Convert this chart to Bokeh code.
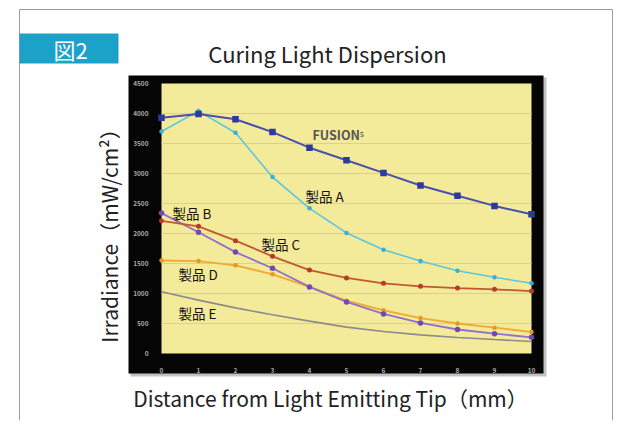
import math
from bokeh.plotting import figure
from bokeh.models import LinearAxis, FixedTicker, Range1d
from bokeh.core.properties import value
from bokeh.embed import file_html
from bokeh.resources import INLINE

# ---- data ----
distance_mm = [0, 1, 2, 3, 4, 5, 6, 7, 8, 9, 10]
fusion = [3930, 3990, 3905, 3690, 3430, 3220, 3010, 2800, 2630, 2460, 2320]
prod_a = [3700, 4040, 3680, 2940, 2420, 2010, 1730, 1540, 1380, 1270, 1170]
prod_b = [2340, 2020, 1690, 1420, 1110, 860, 660, 510, 400, 330, 270]
prod_c = [2210, 2120, 1880, 1620, 1390, 1260, 1170, 1120, 1090, 1070, 1040]
prod_d = [1550, 1540, 1470, 1320, 1110, 880, 720, 590, 500, 430, 360]
prod_e = [1030, 890, 760, 645, 540, 440, 367, 311, 267, 233, 200]
y_ticks = [0, 500, 1000, 1500, 2000, 2500, 3000, 3500, 4000, 4500]
x_ticks = distance_mm

series_names = ["FUSION⁵", "製品 A", "製品 B", "製品 C", "製品 D", "製品 E"]
label_x = [4.08, 3.89, 0.30, 2.70, 0.46, 0.46]
label_y = [3650, 2617, 2350, 1833, 1333, 667]

title_text = "Curing Light Dispersion"
x_label = "Distance from Light Emitting Tip（mm）"
y_label = "Irradiance（mW/cm²）"
fig_tag = "図2"

# ---- layout (canvas pixels) ----
W, H = 618, 420
PX0, PY0 = 161, 353          # canvas position of data origin
SX = 37.0                     # px per mm
SY = 270.0 / 4500.0           # px per mW/cm2

def dx(cx):
    return (cx - PX0) / SX

def dy(cy):
    return (PY0 - cy) / SY

FONT = "Noto Sans CJK JP"

p = figure(width=W, height=H, output_backend="svg", toolbar_location=None,
           x_range=Range1d(dx(0), dx(W)), y_range=Range1d(dy(H), dy(0)),
           x_axis_type=None, y_axis_type=None, min_border=0,
           background_fill_color="white", border_fill_color="white",
           outline_line_color=None)
p.title.visible = False

# outer frame
p.line(x=[dx(19), dx(19), dx(612), dx(612)], y=[dy(H + 5), dy(9), dy(9), dy(H + 5)],
       line_color="#9a9a9a", line_width=1)
# figure tag box
p.quad(left=dx(19), right=dx(118), top=dy(33), bottom=dy(63),
       fill_color="#1ca2c9", line_color=None)
p.text(x=[dx(70)], y=[dy(48)], text=[fig_tag], text_color="white",
       text_font=value(FONT), text_font_size="22px",
       text_align="center", text_baseline="middle")

# black chart box with slight shadow
p.quad(left=dx(130), right=dx(546), top=dy(77), bottom=dy(376),
       fill_color="#9a9a9a", fill_alpha=0.6, line_color=None)
p.quad(left=dx(128), right=dx(543), top=dy(75), bottom=dy(373),
       fill_color="#050505", line_color=None)

# yellow plot area
p.quad(left=x_ticks[0], right=x_ticks[-1], bottom=y_ticks[0], top=y_ticks[-1],
       fill_color="#f3ea9a", line_color=None)
# grid lines
p.segment(x0=[x_ticks[0]] * (len(y_ticks) - 2), x1=[x_ticks[-1]] * (len(y_ticks) - 2),
          y0=y_ticks[1:-1], y1=y_ticks[1:-1], line_color="#ddd08a", line_width=1)

# series
p.line(distance_mm, prod_e, line_color="#8c8c8c", line_width=1.6)

p.line(distance_mm, prod_d, line_color="#f2a934", line_width=1.8)
p.scatter(distance_mm, prod_d, marker="circle", size=4.5, fill_color="#e49a20", line_color=None)

p.line(distance_mm, prod_b, line_color="#9070cc", line_width=1.8)
p.scatter(distance_mm, prod_b, marker="circle", size=5.5, fill_color="#7048b8", line_color=None)

p.line(distance_mm, prod_c, line_color="#c4572e", line_width=1.8)
p.scatter(distance_mm, prod_c, marker="circle", size=5, fill_color="#b83a2a", line_color=None)

p.line(distance_mm, prod_a, line_color="#5cc6de", line_width=1.6)
p.scatter(distance_mm, prod_a, marker="circle", size=4.5, fill_color="#3aaed8", line_color=None)

p.line(distance_mm, fusion, line_color="#4a4fae", line_width=2.0)
p.scatter(distance_mm, fusion, marker="square", size=6.5, fill_color="#2c3a9e", line_color=None)

# series labels
p.text(x=label_x[:1], y=label_y[:1], text=series_names[:1], text_color="#555555",
       text_font=value(FONT), text_font_size="12.5px", text_font_style="bold",
       text_align="left", text_baseline="middle")
p.text(x=label_x[1:], y=label_y[1:], text=series_names[1:], text_color="#111111",
       text_font=value(FONT), text_font_size="13.5px",
       text_align="left", text_baseline="middle")

# axes with tick labels inside the black box
yax = LinearAxis(fixed_location=0, ticker=FixedTicker(ticks=y_ticks),
                 axis_line_color=None, major_tick_line_color=None,
                 minor_tick_line_color=None,
                 major_label_text_color="#a8a8a8",
                 major_label_text_font=FONT,
                 major_label_text_font_size="6.5px",
                 major_label_text_font_style="bold",
                 major_label_standoff=7)
p.add_layout(yax, "left")
xax = LinearAxis(fixed_location=0, ticker=FixedTicker(ticks=x_ticks),
                 axis_line_color=None, major_tick_line_color=None,
                 minor_tick_line_color=None,
                 major_label_text_color="#a8a8a8",
                 major_label_text_font=FONT,
                 major_label_text_font_size="6.5px",
                 major_label_text_font_style="bold",
                 major_label_standoff=8)
p.add_layout(xax, "below")

# title and axis labels
p.text(x=[dx(327)], y=[dy(52)], text=[title_text], text_color="#222222",
       text_font=value(FONT), text_font_size="22px",
       text_align="center", text_baseline="middle")
p.text(x=[dx(330)], y=[dy(397)], text=[x_label], text_color="#222222",
       text_font=value(FONT), text_font_size="21px",
       text_align="center", text_baseline="middle")
p.text(x=[dx(108)], y=[dy(230)], text=[y_label], text_color="#222222",
       text_font=value(FONT), text_font_size="21px", angle=math.pi / 2,
       text_align="center", text_baseline="middle")

open("out.html", "w").write(file_html(p, INLINE))
